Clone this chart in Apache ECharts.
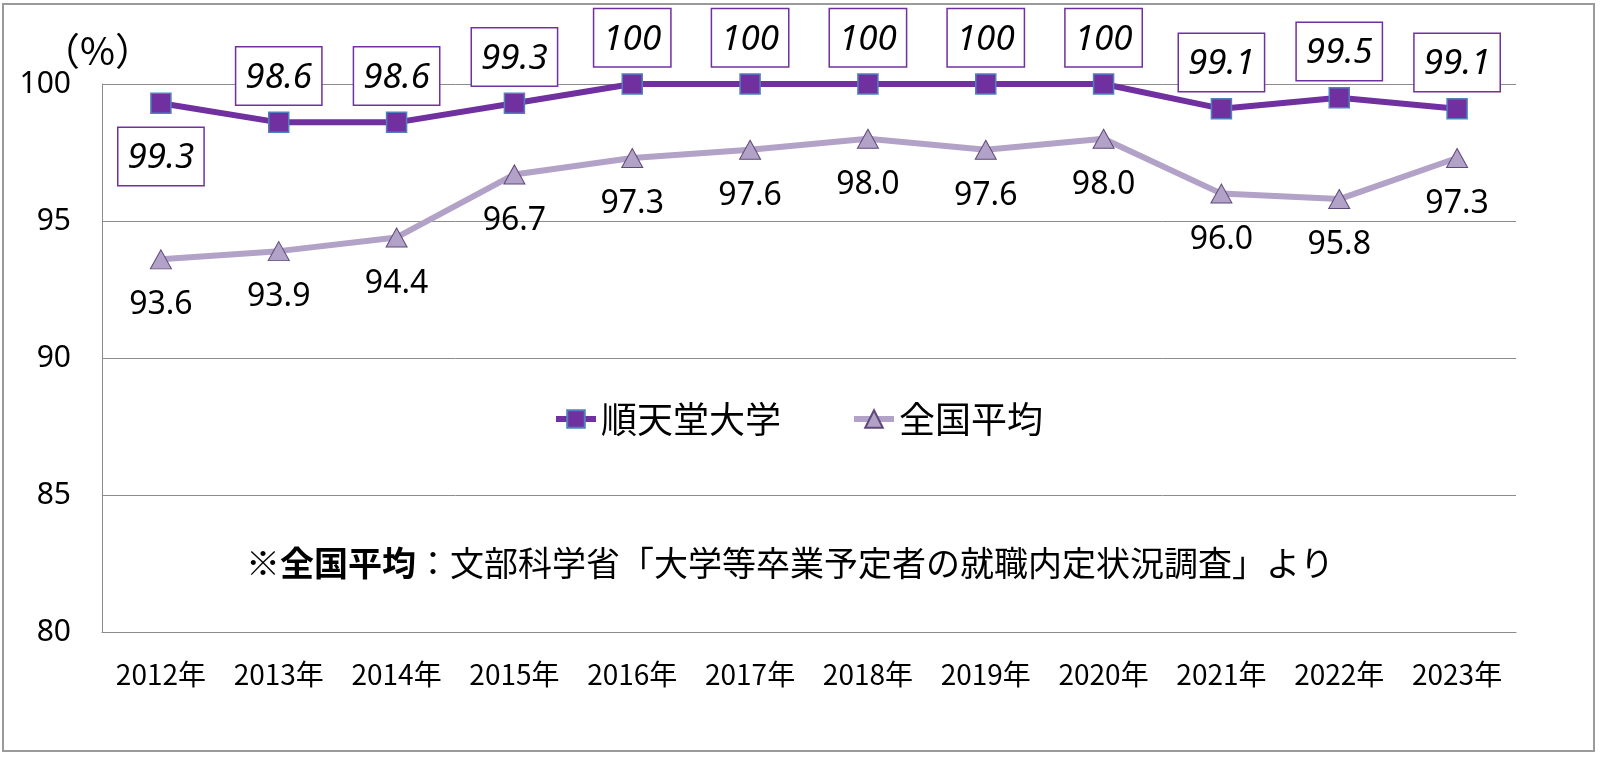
<!DOCTYPE html>
<html>
<head>
<meta charset="utf-8">
<script src="https://cdn.jsdelivr.net/npm/echarts@6/dist/echarts.min.js"></script>
<style>
html,body{margin:0;padding:0;background:#fff;}
#main{width:1600px;height:757px;}
</style>
</head>
<body>
<div id="main"></div>
<script>
const categories = ['2012年','2013年','2014年','2015年','2016年','2017年','2018年','2019年','2020年','2021年','2022年','2023年'];
const juntendo = [99.3, 98.6, 98.6, 99.3, 100, 100, 100, 100, 100, 99.1, 99.5, 99.1];
const national = [93.6, 93.9, 94.4, 96.7, 97.3, 97.6, 98.0, 97.6, 98.0, 96.0, 95.8, 97.3];
const yTicks = {min: 80, max: 100, interval: 5};
const seriesNames = ['順天堂大学', '全国平均'];
const unitLabel = '（%）';
const noteBold = '※全国平均';
const noteRest = '：文部科学省「大学等卒業予定者の就職内定状況調査」より';

const JP = '"Noto Sans CJK JP", "Noto Sans", sans-serif';
const NUM = '"Noto Sans", "Liberation Sans", sans-serif';

const chart = echarts.init(document.getElementById('main'), null, {renderer: 'canvas'});

const juntendoData = juntendo.map((v, i) => i === 0
  ? {value: v, label: {position: 'bottom', distance: 14}}
  : v);

const option = {
  backgroundColor: '#fff',
  animation: false,
  grid: {left: 102, right: 84, top: 84, bottom: 125, containLabel: false},
  legend: {
    left: 548, top: 396,
    itemWidth: 40, itemHeight: 22, itemGap: 70,
    lineStyle: {width: 6},
    textStyle: {fontFamily: JP, fontSize: 36, color: '#000'},
    data: seriesNames
  },
  xAxis: {
    type: 'category',
    data: categories,
    boundaryGap: true,
    axisLine: {show: true, lineStyle: {color: '#8c8c8c', width: 1}},
    axisTick: {show: false},
    axisLabel: {fontFamily: JP, fontSize: 28, color: '#000', margin: 28}
  },
  yAxis: {
    type: 'value',
    min: yTicks.min, max: yTicks.max, interval: yTicks.interval,
    axisLine: {show: true, lineStyle: {color: '#8c8c8c', width: 1}},
    axisTick: {show: false},
    splitLine: {show: true, lineStyle: {color: '#8c8c8c', width: 1}},
    axisLabel: {fontFamily: NUM, fontSize: 30, color: '#000', margin: 31}
  },
  graphic: [
    {type: 'rect', shape: {x: 3, y: 4, width: 1591, height: 747},
     style: {fill: 'none', stroke: '#9a9a9a', lineWidth: 2}, z: 0, silent: true},
    {type: 'text', left: 42, top: 32,
     style: {text: unitLabel, fontFamily: JP, fontSize: 38, fill: '#000'}},
    {type: 'text', left: 246, top: 546,
     style: {
       text: '{b|' + noteBold + '}{r|' + noteRest + '}',
       rich: {
         b: {fontFamily: JP, fontSize: 34, fontWeight: 'bold', fill: '#000', color: '#000'},
         r: {fontFamily: JP, fontSize: 34, fill: '#000', color: '#000'}
       }
     }}
  ],
  series: [
    {
      name: seriesNames[1],
      type: 'line',
      data: national,
      z: 2,
      symbol: 'triangle',
      symbolSize: [21, 19],
      lineStyle: {color: '#B3A2C7', width: 6},
      itemStyle: {color: '#B3A2C7', borderColor: '#5F497A', borderWidth: 1},
      label: {
        show: true, position: 'bottom', distance: 20,
        fontFamily: NUM, fontSize: 32, color: '#000',
        formatter: p => p.value.toFixed(1)
      }
    },
    {
      name: seriesNames[0],
      type: 'line',
      data: juntendoData,
      z: 3,
      symbol: 'rect',
      symbolSize: 20,
      lineStyle: {color: '#7030A0', width: 6},
      itemStyle: {color: '#7030A0', borderColor: '#4F81BD', borderWidth: 1.5},
      label: {
        show: true, position: 'top', distance: 7,
        fontFamily: NUM, fontSize: 35, fontStyle: 'italic', color: '#000',
        backgroundColor: '#fff', borderColor: '#7030A0', borderWidth: 1.5,
        padding: [13, 9, 9, 9],
        formatter: p => (p.value === 100 ? '100' : p.value.toFixed(1))
      }
    }
  ]
};
chart.setOption(option);
</script>
</body>
</html>
